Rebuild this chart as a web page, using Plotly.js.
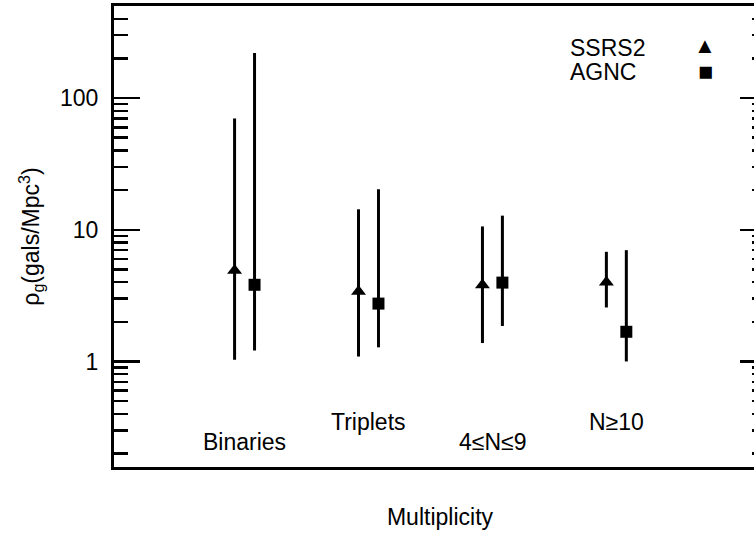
<!DOCTYPE html>
<html>
<head>
<meta charset="utf-8">
<script src="https://cdn.plot.ly/plotly-3.0.1.min.js"></script>
<style>
html, body { margin: 0; padding: 0; overflow: hidden; background: #fff; }
#chart { width: 775px; height: 540px; }
</style>
</head>
<body>
<div id="chart"></div>
<script>
// ---- data ----
const categories = ['Binaries', 'Triplets', '4\u2264N\u22649', 'N\u226510'];
const seriesNames = ['SSRS2', 'AGNC'];
const seriesKeys  = ['\u25B2', '\u25A0'];   // legend key glyphs (triangle, square)
const ssrs2Value = [4.9, 3.4, 3.8, 4.0];
const ssrs2Low   = [1.03, 1.09, 1.38, 2.57];
const ssrs2High  = [70, 14.3, 10.6, 6.8];
const agncValue  = [3.82, 2.75, 3.97, 1.68];
const agncLow    = [1.21, 1.28, 1.86, 1.0];
const agncHigh   = [220, 20.3, 12.8, 7.0];
const yTickVals  = [1, 10, 100];

// ---- layout helpers ----
const FONT = 'Liberation Sans, Arial, Helvetica, sans-serif';
const groupOffset = 0.161;                      // AGNC drawn just right of SSRS2
const labelRow = [0.054, 0.098, 0.054, 0.098];  // staggered category labels (paper y)
const legendRowY = [0.9086, 0.8578];
const legendKeyY = [0.915, 0.860];
const legendTextX = 0.696, legendKeyX = 0.9065;
const keySize = [22, 25];

const xS = categories.map((c, i) => i + 1);
const xA = categories.map((c, i) => i + 1 + groupOffset);

function errTrace(name, x, v, lo, hi, symbol, size) {
  return {
    type: 'scatter', mode: 'markers', name: name,
    x: x, y: v,
    marker: { symbol: symbol, size: size, color: '#000' },
    error_y: {
      type: 'data', symmetric: false,
      array: hi.map((h, i) => h - v[i]),
      arrayminus: lo.map((l, i) => v[i] - l),
      color: '#000', thickness: 3, width: 0
    },
    showlegend: false
  };
}

const traces = [
  errTrace(seriesNames[0], xS, ssrs2Value, ssrs2Low, ssrs2High, 'triangle-up', 13),
  errTrace(seriesNames[1], xA, agncValue, agncLow, agncHigh, 'square', 12)
];

const annotations = categories.map((c, i) => ({
  text: c, x: i + 1 + groupOffset / 2, xref: 'x', y: labelRow[i], yref: 'paper',
  xanchor: 'center', yanchor: 'middle', showarrow: false,
  font: { family: FONT, size: 23, color: '#000' }
}));
seriesNames.forEach((n, i) => {
  annotations.push(
    { text: n, x: legendTextX, xref: 'paper', y: legendRowY[i], yref: 'paper',
      xanchor: 'left', yanchor: 'middle', showarrow: false,
      font: { family: FONT, size: 23, color: '#000' } },
    { text: seriesKeys[i], x: legendKeyX, xref: 'paper', y: legendKeyY[i], yref: 'paper',
      xanchor: 'center', yanchor: 'middle', showarrow: false,
      font: { family: FONT, size: keySize[i], color: '#000' } }
  );
});

const layout = {
  width: 775, height: 540,
  margin: { l: 114, r: 9, t: 6, b: 73 },
  paper_bgcolor: '#fff', plot_bgcolor: '#fff',
  font: { family: FONT, size: 23, color: '#000' },
  showlegend: false,
  xaxis: {
    range: [0.027, 5.288],
    showline: true, mirror: true, linewidth: 3, linecolor: '#000',
    showgrid: false, zeroline: false, ticks: '', showticklabels: false,
    title: { text: 'Multiplicity', standoff: 40, font: { family: FONT, size: 23, color: '#000' } },
    automargin: false
  },
  yaxis: {
    type: 'log',
    range: [Math.log10(0.158), Math.log10(500)],
    tickvals: yTickVals, ticktext: yTickVals.map(String),
    ticks: 'inside', ticklen: 26, tickwidth: 2.5, tickcolor: '#000',
    minor: { ticks: 'inside', ticklen: 14, tickwidth: 2.5, tickcolor: '#000', dtick: 'D1', showgrid: false },
    showline: true, mirror: 'allticks', linewidth: 3, linecolor: '#000',
    showgrid: false, zeroline: false,
    tickfont: { family: FONT, size: 23, color: '#000' },
    ticklabelstandoff: 8,
    title: { text: '\u03c1<sub>g</sub>(gals/Mpc<sup>3</sup>)', standoff: 14, font: { family: FONT, size: 23, color: '#000' } },
    automargin: false
  },
  annotations: annotations
};

Plotly.newPlot('chart', traces, layout, { displayModeBar: false, staticPlot: true });
</script>
</body>
</html>
